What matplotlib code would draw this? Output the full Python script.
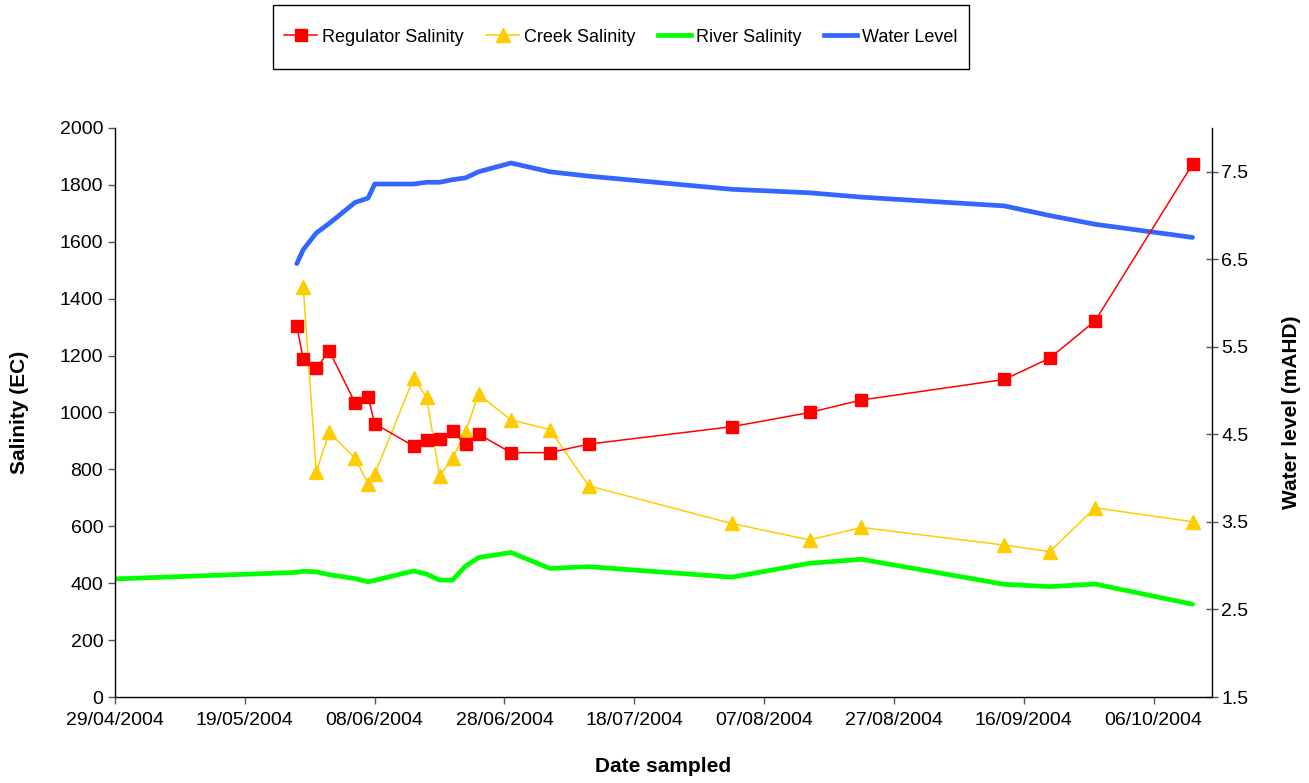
import datetime as dt
import matplotlib
matplotlib.use("Agg")
import matplotlib.pyplot as plt
import matplotlib.dates as mdates
from matplotlib.lines import Line2D
from matplotlib.patches import Rectangle

plt.rcParams['font.family'] = ['Liberation Sans', 'DejaVu Sans']

# Sampling dates (dd/mm/yyyy)
sample_dates = ["27/05/2004", "28/05/2004", "30/05/2004", "01/06/2004", "05/06/2004",
                "07/06/2004", "08/06/2004", "14/06/2004", "16/06/2004", "18/06/2004",
                "20/06/2004", "22/06/2004", "24/06/2004", "29/06/2004", "05/07/2004",
                "11/07/2004", "02/08/2004", "14/08/2004", "22/08/2004", "13/09/2004",
                "20/09/2004", "27/09/2004", "12/10/2004"]

regulator_salinity = [1305, 1187, 1155, 1217, 1033, 1055, 961, 882, 902, 906,
                      936, 888, 924, 859, 859, 889, 950, 1000, 1044, 1116,
                      1191, 1322, 1873]

creek_dates = sample_dates[1:]
creek_salinity = [1440, 792, 930, 839, 748, 783, 1120, 1055, 777, 839,
                  932, 1064, 974, 940, 742, 610, 552, 596, 534, 511,
                  665, 616]

river_dates = ["29/04/2004"] + sample_dates
river_salinity = [415, 438, 442, 440, 430, 416, 405, 410, 443, 432, 411,
                  411, 460, 490, 508, 452, 458, 421, 470, 484, 396,
                  388, 397, 326]

water_level = [6.45, 6.61, 6.80, 6.91, 7.15, 7.20, 7.36, 7.36, 7.38, 7.38,
               7.41, 7.43, 7.50, 7.60, 7.50, 7.45, 7.30, 7.26, 7.21, 7.11,
               7.00, 6.90, 6.75]

tick_dates = ["29/04/2004", "19/05/2004", "08/06/2004", "28/06/2004", "18/07/2004",
              "07/08/2004", "27/08/2004", "16/09/2004", "06/10/2004"]


def to_num(dates):
    return [mdates.date2num(dt.datetime.strptime(d, "%d/%m/%Y")) for d in dates]


W, H = 1309, 783
fig = plt.figure(figsize=(W / 100, H / 100), dpi=100)
ax = fig.add_axes([115 / W, 1 - 697 / H, (1212 - 115) / W, (697 - 128) / H])
ax2 = ax.twinx()

ax.set_zorder(ax2.get_zorder() + 1)
ax.patch.set_visible(False)

red, yellow, green, blue = "#FF0000", "#FFCC00", "#00FF00", "#3366FF"

ax.plot(to_num(river_dates), river_salinity, color=green, lw=3.4,
        solid_joinstyle='round', solid_capstyle='round', zorder=2)
ax.plot(to_num(creek_dates), creek_salinity, color=yellow, lw=1.1, marker='^',
        markersize=10, markeredgecolor=yellow, zorder=3)
ax.plot(to_num(sample_dates), regulator_salinity, color=red, lw=1.1, marker='s',
        markersize=9, markeredgecolor=red, zorder=4)
ax2.plot(to_num(sample_dates), water_level, color=blue, lw=3.4,
         solid_joinstyle='round', solid_capstyle='round')

x0 = to_num(["29/04/2004"])[0]
ax.set_xlim(x0, x0 + 169)
ax.set_ylim(0, 2000)
ax2.set_ylim(1.5, 8.0)

ax.set_xticks(to_num(tick_dates))
ax.set_xticklabels(tick_dates)
ax.set_yticks(range(0, 2001, 200))
ax2.set_yticks([1.5, 2.5, 3.5, 4.5, 5.5, 6.5, 7.5])
ax2.set_yticklabels(["1.5", "2.5", "3.5", "4.5", "5.5", "6.5", "7.5"])

for a in (ax, ax2):
    a.spines['top'].set_visible(False)
    for s in a.spines.values():
        s.set_linewidth(1.0)
ax.spines['right'].set_visible(False)
ax2.spines['left'].set_visible(False)
ax2.spines['bottom'].set_visible(False)

ax.tick_params(axis='both', labelsize=14, direction='out', length=5, width=1, color='#555555')
ax.tick_params(axis='x', pad=6)
ax2.tick_params(axis='y', labelsize=14, direction='inout', length=9, width=1, color='#555555', pad=2)

ax.set_ylabel("Salinity (EC)", fontsize=15, fontweight='bold', labelpad=22)
ax.set_xlabel("Date sampled", fontsize=15, fontweight='bold', labelpad=20)
ax2.set_ylabel("Water level (mAHD)", fontsize=15, fontweight='bold', labelpad=24)

# Legend entries in one row, inside a plain rectangular box
handles = [
    Line2D([], [], color=red, lw=1.1, marker='s', markersize=9),
    Line2D([], [], color=yellow, lw=1.1, marker='^', markersize=10),
    Line2D([], [], color=green, lw=3.4),
    Line2D([], [], color=blue, lw=3.4),
]
labels = ["Regulator Salinity", "Creek Salinity", "River Salinity", "Water Level"]
fig.legend(handles, labels, loc='center', bbox_to_anchor=(621 / W, 1 - 37 / H),
           ncol=4, fontsize=13, frameon=False, handlelength=1.8,
           handletextpad=0.3, columnspacing=1.25, borderpad=0.3)
fig.patches.append(Rectangle((273 / W, 1 - 69 / H), (969 - 273) / W, 64 / H,
                             transform=fig.transFigure, fill=False,
                             edgecolor='black', linewidth=1.0))

fig.savefig("out.png", dpi=100)
